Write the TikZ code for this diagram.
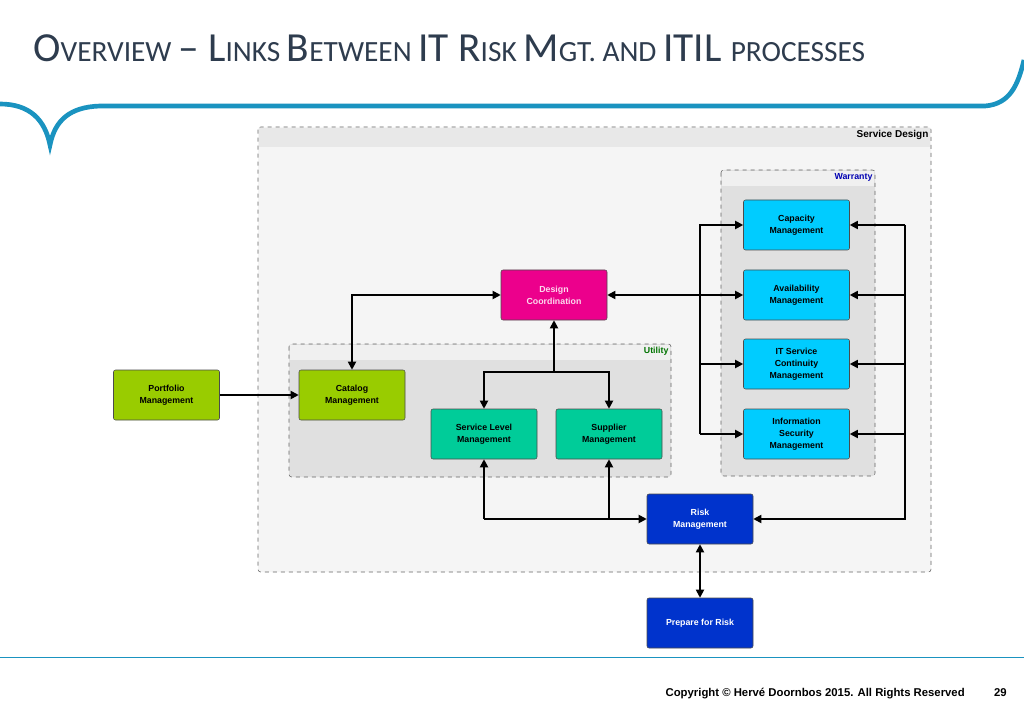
\documentclass[tikz,border=0pt]{standalone}
\usepackage{fontspec}
\setmainfont{Liberation Sans}
\newfontfamily\ttlfont{Carlito}
\usetikzlibrary{arrows.meta}
\definecolor{hdr}{HTML}{1A93C0}
\definecolor{ttl}{HTML}{2E3C4E}
\begin{document}
\begin{tikzpicture}[x=0.75pt,y=-0.75pt,
  box/.style={draw=black!70,rounded corners=1.5pt,minimum width=79.5pt,minimum height=37.5pt,inner sep=1pt,align=center,font=\fontsize{6.6}{9}\selectfont\bfseries},
  con/.style={line width=1.3pt},
  tip/.style={-{Triangle[length=6pt,width=6pt]}},
  both/.style={{Triangle[length=6pt,width=6pt]}-{Triangle[length=6pt,width=6pt]}},
  grp/.style={draw=black!60,dashed,rounded corners=2pt,line width=0.4pt}]
\useasboundingbox (0,0) rectangle (1024,709);
\fill[white] (0,0) rectangle (1024,709);
% header
\node[anchor=base west,text=ttl,inner sep=0] (title) at (33,62) {\ttlfont\fontsize{31}{31}\selectfont O\fontsize{22}{22}\selectfont VERVIEW \fontsize{31}{31}\selectfont– L\fontsize{22}{22}\selectfont INKS \fontsize{31}{31}\selectfont B\fontsize{22}{22}\selectfont ETWEEN \fontsize{31}{31}\selectfont IT R\fontsize{22}{22}\selectfont ISK \fontsize{31}{31}\selectfont M\fontsize{22}{22}\selectfont GT. AND \fontsize{31}{31}\selectfont ITIL \fontsize{22}{22}\selectfont PROCESSES};
\draw[hdr,line width=3.5pt] (0,104) .. controls (30,104) and (45,120) .. (50,145) .. controls (55,120) and (70,107) .. (100,106) -- (985,106) .. controls (1010,104) and (1018,85) .. (1024,60);
\draw[hdr,line width=0.6pt] (0,657) -- (1024,657);
\node[anchor=base east,font=\fontsize{8.5}{10}\selectfont\bfseries,inner sep=0] (copy) at (965,696) {Copyright © Hervé Doornbos 2015. All Rights Reserved};
\node[anchor=base east,font=\fontsize{8.5}{10}\selectfont\bfseries,inner sep=0] (pg) at (1007,696) {29};
% groups
\filldraw[grp,fill=black!4] (258,127) rectangle (931,572);
\fill[black!9] (259,128) rectangle (930,147);
\node[anchor=north east,font=\fontsize{7.5}{9}\selectfont\bfseries,inner sep=1pt] (sd) at (930,129) {Service Design};
\filldraw[grp,fill=black!12] (721,170) rectangle (875,476);
\fill[black!6] (722,171) rectangle (874,186);
\node[anchor=north east,font=\fontsize{6.6}{8}\selectfont\bfseries,text=blue!70!black,inner sep=1pt] (wa) at (874,172) {Warranty};
\filldraw[grp,fill=black!12] (289,344) rectangle (671,477);
\fill[black!6] (290,345) rectangle (670,360);
\node[anchor=north east,font=\fontsize{6.6}{8}\selectfont\bfseries,text=green!45!black,inner sep=1pt] (ut) at (670,346) {Utility};
% nodes
\node[box,fill={rgb,255:red,153;green,204;blue,0}] (port) at (166.5,395) {Portfolio\\Management};
\node[box,fill={rgb,255:red,153;green,204;blue,0}] (cat) at (352,395) {Catalog\\Management};
\node[box,fill=magenta,text=white!85!magenta] (dc) at (554,295) {Design\\Coordination};
\node[box,fill={rgb,255:red,0;green,204;blue,153}] (slm) at (484,434) {Service Level\\Management};
\node[box,fill={rgb,255:red,0;green,204;blue,153}] (sup) at (609,434) {Supplier\\Management};
\node[box,fill={rgb,255:red,0;green,204;blue,255}] (cap) at (796.5,225) {Capacity\\Management};
\node[box,fill={rgb,255:red,0;green,204;blue,255}] (ava) at (796.5,295) {Availability\\Management};
\node[box,fill={rgb,255:red,0;green,204;blue,255}] (itsc) at (796.5,364) {IT Service\\Continuity\\Management};
\node[box,fill={rgb,255:red,0;green,204;blue,255}] (ism) at (796.5,434) {Information\\Security\\Management};
\node[box,fill={rgb,255:red,0;green,51;blue,204},text=white] (risk) at (700,519) {Risk\\Management};
\node[box,fill={rgb,255:red,0;green,51;blue,204},text=white] (prep) at (700,623) {Prepare for Risk};
% connectors
\draw[con,tip] (port) -- (cat);
\draw[con,both] (dc.west) -| (cat.north);
\draw[con,both] (dc.east) -- (ava.west);
\coordinate (lb1) at (700,225);
\coordinate (lb2) at (700,434);
\draw[con,tip] (lb2) -- (lb1) -- (cap.west);
\draw[con,tip] (700,364) -- (itsc.west);
\draw[con,tip] (700,434) -- (ism.west);
\coordinate (j) at (554,372);
\draw[con,tip] (j) -- (dc.south);
\draw[con,tip] (j) -| (slm.north);
\draw[con,tip] (j) -| (sup.north);
\coordinate (rb1) at (905,225);
\coordinate (rb2) at (905,519);
\draw[con,tip] (rb1) -- (rb2) -- (risk.east);
\draw[con,tip] (rb1) -- (cap.east);
\draw[con,tip] (905,295) -- (ava.east);
\draw[con,tip] (905,364) -- (itsc.east);
\draw[con,tip] (905,434) -- (ism.east);
\coordinate (bl) at (484,519);
\draw[con,tip] (bl) -- (slm.south);
\draw[con,tip] (bl) -- (risk.west);
\draw[con,tip] (609,519) -- (sup.south);
\draw[con,both] (risk) -- (prep);
\end{tikzpicture}
\end{document}
